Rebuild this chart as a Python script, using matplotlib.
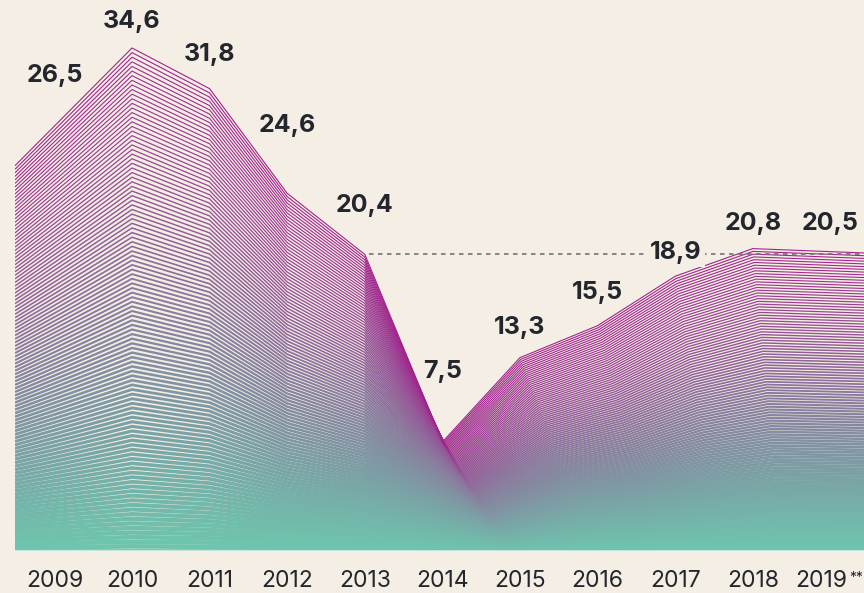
import matplotlib
matplotlib.use("Agg")
import matplotlib.pyplot as plt
import matplotlib.transforms as mtransforms
import numpy as np
from matplotlib.colors import LinearSegmentedColormap

# data
years = ["2009", "2010", "2011", "2012", "2013", "2014", "2015", "2016", "2017", "2018", "2019"]
values = [26.5, 34.6, 31.8, 24.6, 20.4, 7.5, 13.3, 15.5, 18.9, 20.8, 20.5]
value_labels = ["26,5", "34,6", "31,8", "24,6", "20,4", "7,5", "13,3", "15,5", "18,9", "20,8", "20,5"]
footnote_year = "2019"
footnote_mark = "**"
ref_year = "2013"
boxed_year = "2017"

# styling
label_lift_px = [90, 26, 34, 68, 49, 70, 30, 33, 24, 25, 29]
BG = "#f4eee4"
TEXT = "#23262d"
N_LINES = 110
FONT = "Inter"

cmap = LinearSegmentedColormap.from_list(
    "blend", ["#6dc6ad", "#8a7d9e", "#a2228d"]
)

fig = plt.figure(figsize=(8.64, 5.93), dpi=100)
fig.patch.set_facecolor(BG)
ax = fig.add_axes([15 / 864, 42 / 593, 849 / 864, 551 / 593])
ax.set_facecolor(BG)
ax.set_xlim(-0.508, 10.433)
ax.set_ylim(0, 37.9)

n = len(values)
x_top = np.arange(n, dtype=float)
x_top[0], x_top[-1] = ax.get_xlim()
y_top = np.array(values)

# right half blends toward a flat baseline by arc length
k0 = years.index(ref_year)
pts = ax.transData.transform(np.column_stack([x_top, y_top]))
seg = np.hypot(*np.diff(pts[k0:], axis=0).T)
frac = np.concatenate([[0.0], np.cumsum(seg)]) / seg.sum()
x_bot = x_top.copy()
x_bot[k0:] = x_top[k0] + frac * (x_top[-1] - x_top[k0])

for t in np.linspace(0, 1, N_LINES):
    xs = t * x_top + (1 - t) * x_bot
    ys = t * y_top
    lw_px = 1.1 + 3.6 * (1 - t) ** 2
    ax.plot(xs, ys, color=cmap(t), lw=lw_px * 0.72,
            solid_joinstyle="miter", solid_capstyle="butt", zorder=2)

ax.axhline(0, color="#d8ece2", lw=1.2, zorder=3)

# reference level of 2013
ax.hlines(values[k0], k0 + 0.05, x_top[-1], colors="#737373",
          linestyles=(0, (2.7, 2.7)), lw=1.2, zorder=5)

for i, (lbl, v) in enumerate(zip(value_labels, values)):
    box = None
    if years[i] == boxed_year:
        box = dict(boxstyle="square,pad=0.15", fc=BG, ec="none")
    ax.annotate(lbl, (i, v), xytext=(0, label_lift_px[i] * 0.72),
                textcoords="offset points", ha="center", va="center",
                fontsize=18, fontweight="bold", family=FONT, color=TEXT,
                bbox=box, annotation_clip=False, zorder=6)

ax.set_xticks(range(n))
ax.set_xticklabels(years, fontsize=16.5, family=FONT, color=TEXT)
ax.tick_params(axis="x", length=0, pad=14)

# the last year carries a footnote mark, nudged left to make room
k_fn = years.index(footnote_year)
shift = mtransforms.ScaledTranslation(-9 / 100, 0, fig.dpi_scale_trans)
last = ax.get_xticklabels()[k_fn]
last.set_transform(last.get_transform() + shift)
ax.annotate(footnote_mark, (k_fn, 0), xytext=(13.5, -14.5),
            textcoords="offset points", ha="left", va="top",
            fontsize=10, family=FONT, color=TEXT, annotation_clip=False)

ax.set_yticks([])
for s in ax.spines.values():
    s.set_visible(False)

fig.savefig("out.png", dpi=100, facecolor=BG)
